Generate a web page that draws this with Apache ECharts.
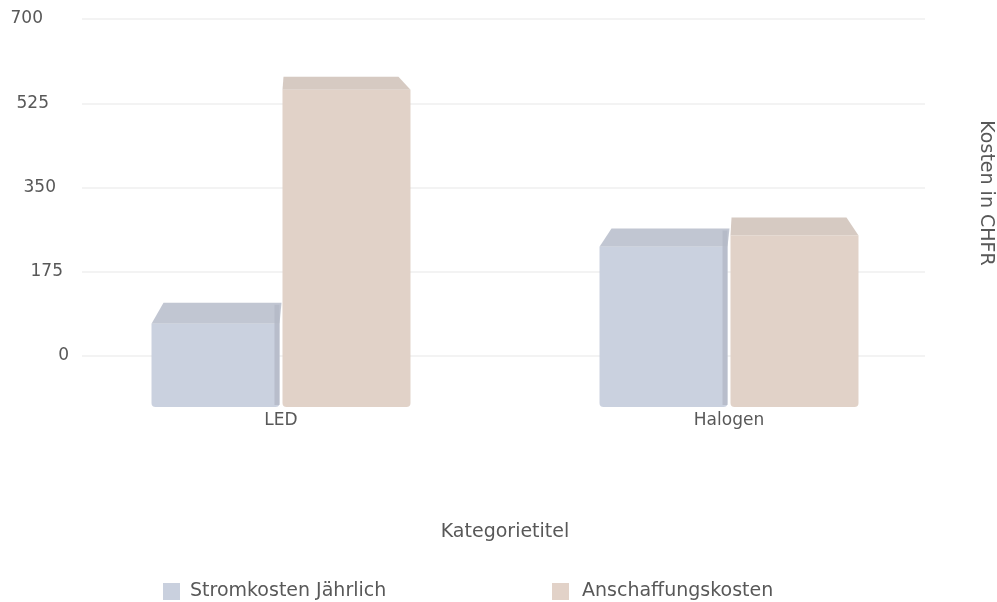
<!DOCTYPE html>
<html>
<head>
<meta charset="utf-8">
<script src="https://cdn.jsdelivr.net/npm/echarts@6/dist/echarts.min.js"></script>
<style>
html,body{margin:0;padding:0;background:#fff;}
#chart{width:997px;height:602px;}
</style>
</head>
<body>
<div id="chart"></div>
<script>
const categories = ['LED', 'Halogen'];
const stromkosten = [160, 308];
const anschaffung = [610, 330];
const yTicks = [0, 175, 350, 525, 700];
const seriesNames = ['Stromkosten Jährlich', 'Anschaffungskosten'];

const FONT = '"DejaVu Sans", sans-serif';
const TXT = '#585858';
const labelPad = {0: 0, 175: 6, 350: 13, 525: 20, 700: 26};

const faces = [
  {front: '#c6cedd', top: '#bcc2cf', side: '#b3b8c6'},
  {front: '#dfcfc4', top: '#d3c6bd', side: '#cbbdb3'}
];

function makeRender(idx) {
  return function (params, api) {
    const ci = api.value(0);
    const v = api.value(1);
    const top = api.coord([ci, v]);
    const base = api.coord([ci, 0]);
    const band = api.size([1, 0])[0];
    const w = band * 0.2857;
    const gap = 3;
    const x0 = idx === 0 ? top[0] - gap / 2 - w : top[0] + gap / 2;
    const y1 = top[1], y0 = base[1];
    const d = 13 + Math.max(0, Math.min(1, (y1 - 90) / 233)) * 8;
    const f = faces[idx];
    const children = [];
    let pts;
    if (idx === 0) {
      pts = [[x0, y1], [x0 + w, y1], [x0 + w + 2, y1 - d], [x0 + 12, y1 - d]];
    } else {
      pts = [[x0, y1], [x0 + w, y1], [x0 + w - 12, y1 - d], [x0 + 1, y1 - d]];
    }
    children.push({type: 'polygon', shape: {points: pts}, style: {fill: f.top, opacity: 0.93}});
    children.push({type: 'rect', shape: {x: x0, y: y1, width: w, height: y0 - y1, r: [0, 0, 4, 4]},
      style: {fill: f.front, opacity: 0.93}});
    if (idx === 0) {
      children.push({type: 'rect', shape: {x: x0 + w - 5, y: y1 - d + 2, width: 5, height: y0 - y1 + d - 4},
        style: {fill: f.side, opacity: 0.8}});
    }
    return {type: 'group', children: children};
  };
}

const chart = echarts.init(document.getElementById('chart'), null, {renderer: 'canvas'});
chart.setOption({
  backgroundColor: '#ffffff',
  animation: false,
  grid: [
    {left: 82, right: 72, top: 19, bottom: 602 - 356},
    {left: 57, right: 44, top: 43, bottom: 602 - 407}
  ],
  xAxis: [
    {gridIndex: 0, type: 'category', data: categories, show: false},
    {
      gridIndex: 1, type: 'category', data: categories,
      axisLine: {show: false}, axisTick: {show: false},
      axisLabel: {color: TXT, fontFamily: FONT, fontSize: 17, margin: 4, lineHeight: 20},
      name: 'Kategorietitel', nameLocation: 'middle', nameGap: 116,
      nameTextStyle: {color: TXT, fontFamily: FONT, fontSize: 19}
    }
  ],
  yAxis: [
    {
      gridIndex: 0, type: 'value', min: yTicks[0], max: yTicks[yTicks.length - 1], interval: 175,
      axisLine: {show: false}, axisTick: {show: false},
      splitLine: {lineStyle: {color: '#efefef', width: 1.5}},
      axisLabel: {
        margin: 13, color: TXT, fontFamily: FONT, fontSize: 17,
        formatter: function (v) { return '{p' + v + '|' + v + '}'; },
        rich: (function () {
          const r = {};
          yTicks.forEach(t => { r['p' + t] = {padding: [0, labelPad[t], 0, 0], color: TXT, fontFamily: FONT, fontSize: 17}; });
          return r;
        })()
      }
    },
    {gridIndex: 1, type: 'value', min: 0, max: 700, show: false, splitLine: {show: false}}
  ],
  legend: [
    {data: [seriesNames[0]], left: 163, top: 582, padding: 0, itemWidth: 17, itemHeight: 17, icon: 'rect',
      textStyle: {color: TXT, fontFamily: FONT, fontSize: 19, padding: [0, 0, 0, 5]}},
    {data: [seriesNames[1]], left: 552, top: 582, padding: 0, itemWidth: 17, itemHeight: 17, icon: 'rect',
      textStyle: {color: TXT, fontFamily: FONT, fontSize: 19, padding: [0, 0, 0, 8]}}
  ],
  graphic: [
    {type: 'text', x: 986, y: 193, rotation: -Math.PI / 2,
      style: {text: 'Kosten in CHFR', fill: TXT, font: '19px "DejaVu Sans", sans-serif',
        textAlign: 'center', textVerticalAlign: 'middle'}}
  ],
  series: [
    {
      name: seriesNames[0], type: 'custom', xAxisIndex: 1, yAxisIndex: 1,
      renderItem: makeRender(0), itemStyle: {color: '#c9d0de'},
      encode: {x: 0, y: 1},
      data: categories.map((c, i) => [i, stromkosten[i]])
    },
    {
      name: seriesNames[1], type: 'custom', xAxisIndex: 1, yAxisIndex: 1,
      renderItem: makeRender(1), itemStyle: {color: '#e2d2c8'},
      encode: {x: 0, y: 1},
      data: categories.map((c, i) => [i, anschaffung[i]])
    }
  ]
});
</script>
</body>
</html>
